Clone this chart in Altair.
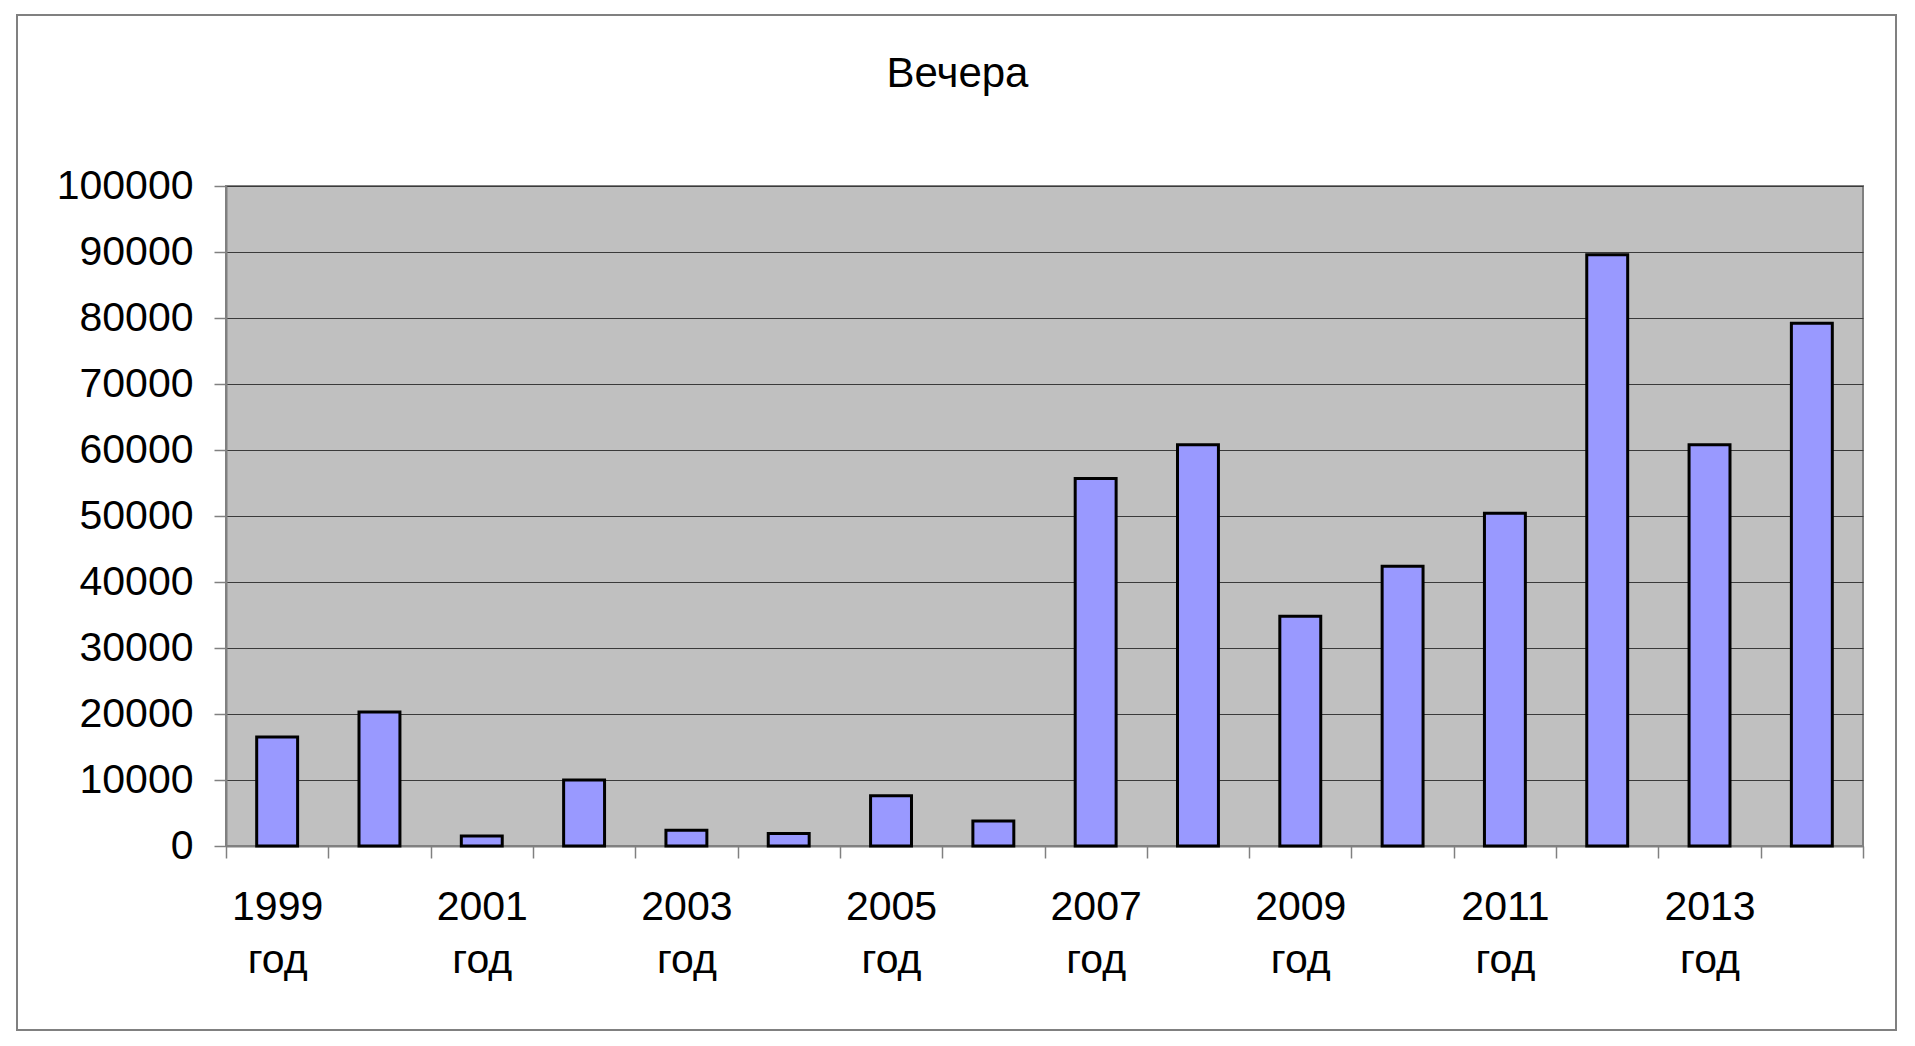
import altair as alt
import pandas as pd

# ---- data ----
years = ["1999 год", "2000 год", "2001 год", "2002 год", "2003 год", "2004 год",
         "2005 год", "2006 год", "2007 год", "2008 год", "2009 год", "2010 год",
         "2011 год", "2012 год", "2013 год", "2014 год"]
values = [16500, 20300, 1500, 10000, 2400, 1900, 7600, 3800,
          55700, 60800, 34800, 42400, 50400, 89600, 60800, 79200]
y_ticks = [0, 10000, 20000, 30000, 40000, 50000, 60000, 70000, 80000, 90000, 100000]
title_text = "Вечера"

df = pd.DataFrame({"year": years, "value": values})

W, H = 1637, 660
FONT = "Liberation Sans"

x_enc = alt.X(
    "year:N", sort=years, title=None,
    scale=alt.Scale(paddingInner=0, paddingOuter=0),
    axis=alt.Axis(
        labelAngle=0, tickBand="extent", tickSize=12, tickColor="#808080", tickWidth=1.5,
        domainColor="#808080", domainWidth=2, grid=False,
        labelFont=FONT, labelFontSize=41, labelColor="black", labelPadding=29,
        labelLineHeight=53, labelBaseline="top", labelOverlap=False,
        labelExpr="toNumber(substring(datum.label, 0, 4)) % 2 == 1 ? split(datum.label, ' ') : ''",
    ),
)
y_enc = alt.Y(
    "value:Q", title=None,
    scale=alt.Scale(domain=[0, 100000], nice=False),
    axis=alt.Axis(
        values=y_ticks, format="d", grid=True, gridColor="#3a3a3a", gridWidth=1.2,
        tickSize=12, tickColor="#808080", tickWidth=1.5,
        domainColor="#808080", domainWidth=2,
        labelFont=FONT, labelFontSize=41, labelColor="black", labelPadding=21,
        labelFlush=False, labelOverlap=False,
    ),
)

bars = alt.Chart(df).mark_bar(
    width=alt.RelativeBandSize(0.4), fill="#9999FF", stroke="black", strokeWidth=3
).encode(x=x_enc, y=y_enc)

frame = alt.Chart(pd.DataFrame({"d": [0]})).mark_rect(
    fillOpacity=0, stroke="#808080", strokeWidth=2, clip=False
).encode(
    x=alt.value(-209), x2=alt.value(W + 33),
    y=alt.value(-171), y2=alt.value(H + 184),
)

chart = alt.layer(bars, frame).properties(
    width=W, height=H,
    title=alt.TitleParams(title_text, font=FONT, fontSize=42, fontWeight="normal",
                          color="black", anchor="middle", dx=-87, dy=82, offset=0),
    autosize=alt.AutoSizeParams(type="none"),
    padding={"left": 218, "top": 178, "right": 40, "bottom": 190},
    background="white",
).configure_view(
    fill="#C0C0C0", stroke="#808080", strokeWidth=2
)

chart.save("out.html", embed_options={"renderer": "svg", "actions": False})
